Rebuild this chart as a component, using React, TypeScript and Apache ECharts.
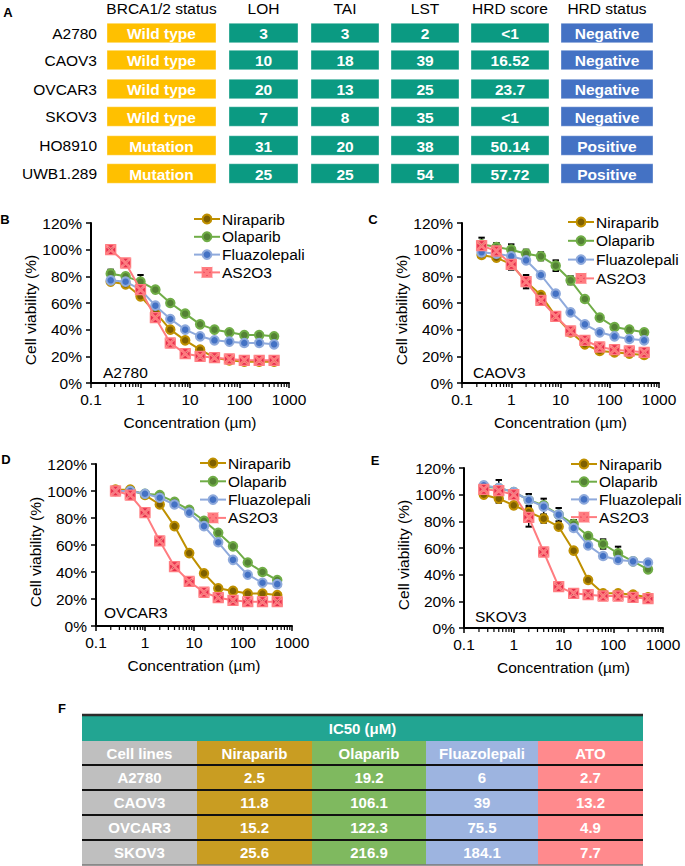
import React, { useEffect, useRef } from 'react';
import * as echarts from 'echarts';

const FONT = '"Liberation Sans", Arial, Helvetica, sans-serif';

// ---------- Panel A data ----------
const headersA = ['BRCA1/2 status', 'LOH', 'TAI', 'LST', 'HRD score', 'HRD status'];
const cellLinesA = ['A2780', 'CAOV3', 'OVCAR3', 'SKOV3', 'HO8910', 'UWB1.289'];
const brcaStatus = ['Wild type', 'Wild type', 'Wild type', 'Wild type', 'Mutation', 'Mutation'];
const lohValues = [3, 10, 20, 7, 31, 25];
const taiValues = [3, 18, 13, 8, 20, 25];
const lstValues = [2, 39, 25, 35, 38, 54];
const hrdScores = ['<1', '16.52', '23.7', '<1', '50.14', '57.72'];
const hrdStatus = ['Negative', 'Negative', 'Negative', 'Negative', 'Positive', 'Positive'];

// ---------- Viability curves ----------
const drugNames = ['Niraparib', 'Olaparib', 'Fluazolepali', 'AS2O3'];
const panelCellLines = ['A2780', 'CAOV3', 'OVCAR3', 'SKOV3'];
const concentrations = [0.25, 0.5, 1, 2, 4, 8, 16, 31.25, 62.5, 125, 250, 500];
const minorTickValues = [
  0.2, 0.3, 0.4, 0.5, 0.6, 0.7, 0.8, 0.9,
  2, 3, 4, 5, 6, 7, 8, 9,
  20, 30, 40, 50, 60, 70, 80, 90,
  200, 300, 400, 500, 600, 700, 800, 900,
];
const yTickValues = [0, 20, 40, 60, 80, 100, 120];

// A2780 (B)
const a2780Niraparib = [76, 74, 65, 53, 40, 32, 25, 19, 17, 16, 16, 16];
const a2780Olaparib = [82, 80, 76, 70, 60, 52, 44, 40, 38, 36, 36, 35];
const a2780Fluazolepali = [77, 76, 70, 58, 48, 40, 35, 32, 31, 30, 30, 29];
const a2780AS2O3 = [100, 90, 70, 49, 30, 22, 20, 19, 18, 17, 17, 17];
const a2780NiraparibErr = [1, 2, 2, 2, 2, 2, 1, 1, 1, 1, 1, 1];
const a2780OlaparibErr = [3, 2, 5, 2, 2, 2, 2, 1, 1, 1, 1, 1];
const a2780FluazolepaliErr = [2, 2, 2, 2, 2, 1, 1, 1, 1, 1, 1, 1];
const a2780AS2O3Err = [1, 1, 2, 2, 2, 1, 1, 1, 1, 1, 1, 1];

// CAOV3 (C)
const caov3Niraparib = [96, 94, 89, 76, 66, 50, 38, 29, 24, 23, 22, 21];
const caov3Olaparib = [104, 102, 100, 97, 95, 88, 77, 63, 49, 42, 40, 38];
const caov3Fluazolepali = [98, 97, 95, 92, 81, 67, 53, 44, 38, 35, 33, 32];
const caov3AS2O3 = [103, 99, 89, 76, 62, 50, 39, 32, 27, 25, 24, 23];
const caov3NiraparibErr = [2, 2, 2, 3, 2, 2, 2, 1, 1, 1, 1, 1];
const caov3OlaparibErr = [5, 3, 4, 3, 3, 4, 3, 2, 2, 2, 2, 2];
const caov3FluazolepaliErr = [2, 2, 2, 2, 2, 2, 2, 2, 2, 1, 1, 1];
const caov3AS2O3Err = [3, 3, 4, 5, 2, 2, 2, 2, 1, 1, 1, 1];

// OVCAR3 (D)
const ovcar3Niraparib = [101, 101, 97, 90, 74, 54, 39, 28, 26, 24, 24, 23];
const ovcar3Olaparib = [100, 100, 98, 97, 92, 86, 78, 69, 59, 47, 40, 34];
const ovcar3Fluazolepali = [100, 100, 98, 95, 90, 84, 74, 62, 49, 38, 32, 31];
const ovcar3AS2O3 = [100, 97, 84, 63, 44, 33, 25, 21, 19, 18, 18, 18];
const ovcar3NiraparibErr = [1, 1, 1, 1, 1, 1, 1, 1, 1, 1, 1, 1];
const ovcar3OlaparibErr = [1, 1, 1, 1, 1, 1, 1, 1, 1, 1, 1, 1];
const ovcar3FluazolepaliErr = [1, 1, 1, 1, 1, 1, 1, 1, 1, 1, 1, 1];
const ovcar3AS2O3Err = [1, 1, 1, 1, 1, 1, 1, 1, 1, 1, 1, 1];

// SKOV3 (E)
const skov3Niraparib = [100, 97, 92, 87, 82, 76, 58, 36, 26, 26, 25, 23];
const skov3Olaparib = [106, 105, 102, 96, 92, 85, 78, 69, 63, 56, 50, 44];
const skov3Fluazolepali = [107, 105, 102, 96, 91, 85, 75, 62, 54, 51, 50, 49];
const skov3AS2O3 = [104, 103, 100, 83, 57, 31, 26, 25, 24, 24, 23, 22];
const skov3NiraparibErr = [2, 3, 2, 2, 3, 2, 2, 2, 1, 1, 1, 1];
const skov3OlaparibErr = [2, 6, 2, 2, 2, 2, 3, 2, 3.5, 5, 2, 2];
const skov3FluazolepaliErr = [2, 2, 2, 4.5, 6, 5, 2, 2, 2, 2, 2, 2];
const skov3AS2O3Err = [2, 3, 3, 7, 2, 2, 1, 1, 1, 1, 1, 1];

// ---------- Panel F data ----------
const tableFTitle = 'IC50 (μM)';
const tableFHeaders = ['Cell lines', 'Niraparib', 'Olaparib', 'Fluazolepali', 'ATO'];
const cellLinesF = ['A2780', 'CAOV3', 'OVCAR3', 'SKOV3'];
const ic50Niraparib = [2.5, 11.8, 15.2, 25.6];
const ic50Olaparib = [19.2, 106.1, 122.3, 216.9];
const ic50Fluazolepali = [6, 39, 75.5, 184.1];
const ic50ATO = [2.7, 13.2, 4.9, 7.7];

// ---------- Styles ----------
const drugLine = ['#BF9000', '#70AD47', '#8FAADC', '#FF7C80'];
const drugFill = ['#7F6000', '#548235', '#4472C4', '#E62E4D'];
const asSymbol = 'path://M2,0L18,0L10,8Z M20,2L20,18L12,10Z M18,20L2,20L10,12Z M0,18L0,2L8,10Z';

const panelValues = [
  [a2780Niraparib, a2780Olaparib, a2780Fluazolepali, a2780AS2O3],
  [caov3Niraparib, caov3Olaparib, caov3Fluazolepali, caov3AS2O3],
  [ovcar3Niraparib, ovcar3Olaparib, ovcar3Fluazolepali, ovcar3AS2O3],
  [skov3Niraparib, skov3Olaparib, skov3Fluazolepali, skov3AS2O3],
];
const panelErrors = [
  [a2780NiraparibErr, a2780OlaparibErr, a2780FluazolepaliErr, a2780AS2O3Err],
  [caov3NiraparibErr, caov3OlaparibErr, caov3FluazolepaliErr, caov3AS2O3Err],
  [ovcar3NiraparibErr, ovcar3OlaparibErr, ovcar3FluazolepaliErr, ovcar3AS2O3Err],
  [skov3NiraparibErr, skov3OlaparibErr, skov3FluazolepaliErr, skov3AS2O3Err],
];

const grids = [
  { left: 91, top: 223, width: 198, height: 160 },
  { left: 462, top: 223, width: 197, height: 160 },
  { left: 96, top: 464, width: 196, height: 162 },
  { left: 464, top: 468, width: 199, height: 160 },
];
const legendPos = [
  { left: 193, top: 211, gap: 1.8 },
  { left: 567, top: 214, gap: 2.8 },
  { left: 199, top: 455, gap: 2.3 },
  { left: 570, top: 456, gap: 1.7 },
];
const panelLetters = ['B', 'C', 'D', 'E'];
const letterPos = [
  [5, 219],
  [373, 219],
  [6, 459],
  [375, 460],
];
const inPlotLabelPos = [
  [103, 372],
  [473, 372],
  [104, 612],
  [475, 616],
];

function buildGraphic(): any[] {
  const g: any[] = [];
  const txt = (text: string, x: number, y: number, o: any = {}) => ({
    type: 'text',
    silent: true,
    style: {
      text,
      x,
      y,
      fill: o.fill || '#000',
      fontSize: o.fontSize || 15.5,
      fontWeight: o.fontWeight || 'normal',
      fontFamily: FONT,
      align: o.align || 'center',
      verticalAlign: 'middle',
    },
    z: 10,
  });

  // Panel A
  g.push(txt('A', 8, 12, { fontWeight: 'bold', fontSize: 13 }));
  const colsA = [
    [107, 216, '#FFC000'],
    [229, 298, '#0B9A82'],
    [311, 379, '#0B9A82'],
    [391, 459, '#0B9A82'],
    [471, 549, '#0B9A82'],
    [561, 653, '#4472C4'],
  ] as [number, number, string][];
  const rowYA = [33, 60, 89, 116.5, 145.5, 173.5];
  headersA.forEach((h, i) => {
    g.push(txt(h, (colsA[i][0] + colsA[i][1]) / 2, 8));
  });
  const colTexts = [
    brcaStatus,
    lohValues.map(String),
    taiValues.map(String),
    lstValues.map(String),
    hrdScores,
    hrdStatus,
  ];
  cellLinesA.forEach((cl, r) => {
    const y = rowYA[r];
    g.push(txt(cl, 97, y, { align: 'right' }));
    colsA.forEach((c, ci) => {
      g.push({
        type: 'rect',
        silent: true,
        shape: { x: c[0], y: y - 9.75, width: c[1] - c[0], height: 19.5 },
        style: { fill: c[2], stroke: 'rgba(255,255,255,0.35)', lineWidth: 1 },
        z: 5,
      });
      g.push(txt(colTexts[ci][r], (c[0] + c[1]) / 2, y + 0.5, { fill: '#fff', fontWeight: 'bold' }));
    });
  });

  // Panel letters and in-plot labels
  panelLetters.forEach((l, i) => {
    g.push(txt(l, letterPos[i][0], letterPos[i][1], { fontWeight: 'bold', fontSize: 13 }));
    g.push(txt(panelCellLines[i], inPlotLabelPos[i][0], inPlotLabelPos[i][1], { align: 'left' }));
  });

  // Panel F
  g.push(txt('F', 62, 708, { fontWeight: 'bold', fontSize: 13 }));
  const colsF = [82, 197, 312, 426, 538, 643];
  const colColorsF = ['#BFBFBF', '#C99D22', '#7FB95F', '#9DB4E0', '#FF8A8D'];
  const rowsF = [741, 765, 790, 815, 840, 865];
  g.push({
    type: 'rect', silent: true,
    shape: { x: colsF[0], y: 715, width: colsF[5] - colsF[0], height: 26 },
    style: { fill: '#22A592' }, z: 5,
  });
  g.push({
    type: 'line', silent: true,
    shape: { x1: colsF[0], y1: 715, x2: colsF[5], y2: 715 },
    style: { stroke: '#2b2b2b', lineWidth: 2.5 }, z: 7,
  });
  g.push(txt(tableFTitle, (colsF[0] + colsF[5]) / 2, 728, { fill: '#fff', fontWeight: 'bold', fontSize: 15 }));
  for (let c = 0; c < 5; c++) {
    g.push({
      type: 'rect', silent: true,
      shape: { x: colsF[c], y: rowsF[0], width: colsF[c + 1] - colsF[c], height: rowsF[5] - rowsF[0] },
      style: { fill: colColorsF[c] }, z: 5,
    });
  }
  const colValsF = [
    cellLinesF,
    ic50Niraparib.map(String),
    ic50Olaparib.map(String),
    ic50Fluazolepali.map(String),
    ic50ATO.map(String),
  ];
  for (let c = 0; c < 5; c++) {
    const cx = (colsF[c] + colsF[c + 1]) / 2;
    g.push(txt(tableFHeaders[c], cx, (rowsF[0] + rowsF[1]) / 2, { fill: '#fff', fontWeight: 'bold', fontSize: 15 }));
    for (let r = 0; r < 4; r++) {
      g.push(txt(colValsF[c][r], cx, (rowsF[r + 1] + rowsF[r + 2]) / 2, { fill: '#fff', fontWeight: 'bold', fontSize: 15 }));
    }
  }
  for (let r = 1; r < 5; r++) {
    g.push({
      type: 'line', silent: true,
      shape: { x1: colsF[0], y1: rowsF[r], x2: colsF[5], y2: rowsF[r] },
      style: { stroke: '#111', lineWidth: 1.8 }, z: 7,
    });
  }
  g.push({
    type: 'line', silent: true,
    shape: { x1: colsF[0], y1: rowsF[5], x2: colsF[5], y2: rowsF[5] },
    style: { stroke: '#777', lineWidth: 1.5 }, z: 7,
  });
  return g;
}

function buildOption(): any {
  const axisFontStyle = { fontSize: 15.5, fontFamily: FONT, color: '#000' };
  const xAxis: any[] = [];
  const yAxis: any[] = [];
  const series: any[] = [];
  const legend: any[] = [];

  grids.forEach((_, p) => {
    xAxis.push({
      type: 'log',
      logBase: 10,
      gridIndex: p,
      min: 0.1,
      max: 1000,
      name: 'Concentration (µm)',
      nameLocation: 'middle',
      nameGap: 31,
      nameTextStyle: axisFontStyle,
      axisLine: { show: true, lineStyle: { color: '#000', width: 2 } },
      axisTick: { show: true, length: 5, lineStyle: { color: '#000', width: 1.5 } },
      minorTick: { show: false },
      axisLabel: {
        ...axisFontStyle,
        margin: 8,
        formatter: (v: number) => (v >= 1 ? String(Math.round(v)) : String(Math.round(v * 10) / 10)),
      },
      splitLine: { show: false },
    });
    yAxis.push({
      type: 'value',
      gridIndex: p,
      min: yTickValues[0],
      max: yTickValues[yTickValues.length - 1],
      interval: 20,
      name: 'Cell viability (%)',
      nameLocation: 'middle',
      nameGap: 49,
      nameRotate: 90,
      nameTextStyle: { ...axisFontStyle, padding: [0, 0, 0, -14] },
      axisLine: { show: true, lineStyle: { color: '#000', width: 2 } },
      axisTick: { show: true, length: 5, lineStyle: { color: '#000', width: 1.5 } },
      axisLabel: { ...axisFontStyle, margin: 9, formatter: '{value}%' },
      splitLine: { show: false },
    });

    series.push({
      type: 'custom',
      xAxisIndex: p,
      yAxisIndex: p,
      silent: true,
      z: 1,
      data: minorTickValues.map((v) => [v, 0]),
      encode: { x: 0, y: 1 },
      renderItem: (params: any, api: any) => {
        const pt = api.coord([api.value(0), 0]);
        return {
          type: 'line',
          shape: { x1: pt[0], y1: pt[1], x2: pt[0], y2: pt[1] + 4 },
          style: { stroke: '#000', lineWidth: 1.2 },
        };
      },
    });

    const errData: number[][] = [];
    drugNames.forEach((_, d) => {
      concentrations.forEach((c, i) => {
        errData.push([c, panelValues[p][d][i], panelErrors[p][d][i]]);
      });
    });
    series.push({
      type: 'custom',
      xAxisIndex: p,
      yAxisIndex: p,
      silent: true,
      z: 2,
      data: errData,
      encode: { x: 0, y: 1 },
      renderItem: (params: any, api: any) => {
        const x = api.value(0);
        const y = api.value(1);
        const e = api.value(2);
        const top = api.coord([x, y + e]);
        const bot = api.coord([x, y - e]);
        const w = 3.2;
        const st = { stroke: '#000', lineWidth: 1.5 };
        return {
          type: 'group',
          children: [
            { type: 'line', shape: { x1: top[0], y1: top[1], x2: bot[0], y2: bot[1] }, style: st },
            { type: 'line', shape: { x1: top[0] - w, y1: top[1], x2: top[0] + w, y2: top[1] }, style: { stroke: '#000', lineWidth: 2 } },
            { type: 'line', shape: { x1: bot[0] - w, y1: bot[1], x2: bot[0] + w, y2: bot[1] }, style: { stroke: '#000', lineWidth: 2 } },
          ],
        };
      },
    });

    drugNames.forEach((name, d) => {
      const isAs = d === 3;
      series.push({
        type: 'line',
        name,
        xAxisIndex: p,
        yAxisIndex: p,
        z: 3 + d,
        data: concentrations.map((c, i) => [c, panelValues[p][d][i]]),
        symbol: isAs ? asSymbol : 'circle',
        symbolSize: isAs ? 10 : 8.5,
        showAllSymbol: true,
        lineStyle: { color: drugLine[d], width: 2 },
        itemStyle: {
          color: drugFill[d],
          borderColor: drugLine[d],
          borderWidth: isAs ? 1.3 : 2,
        },
        emphasis: { disabled: true },
      });
    });

    legend.push({
      orient: 'vertical',
      left: legendPos[p].left,
      top: legendPos[p].top,
      padding: 0,
      itemGap: legendPos[p].gap,
      itemWidth: 26,
      itemHeight: 11,
      selectedMode: false,
      data: drugNames,
      textStyle: { fontSize: 15.5, fontFamily: FONT, color: '#000', padding: [0, 0, 0, -3] },
    });
  });

  return {
    animation: false,
    backgroundColor: '#fff',
    grid: grids,
    xAxis,
    yAxis,
    legend,
    series,
    graphic: buildGraphic(),
  };
}

export default function App() {
  const ref = useRef<HTMLDivElement>(null);
  useEffect(() => {
    if (!ref.current) return;
    const chart = echarts.init(ref.current, null, { renderer: 'svg' });
    chart.setOption(buildOption());
    return () => chart.dispose();
  }, []);
  return (
    <div
      ref={ref}
      style={{ position: 'absolute', left: 0, top: 0, width: 685, height: 866, background: '#fff' }}
    />
  );
}
